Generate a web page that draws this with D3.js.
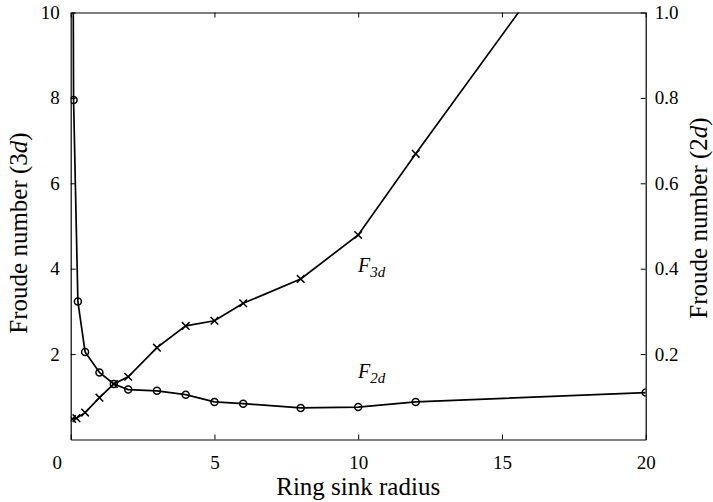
<!DOCTYPE html>
<html>
<head>
<meta charset="utf-8">
<script src="https://cdn.jsdelivr.net/npm/d3@7"></script>
<style>
  body { margin: 0; background: #fff; }
  svg text { font-family: "Liberation Serif", "Times New Roman", serif; fill: #000; }
</style>
</head>
<body>
<div id="chart"></div>
<script>
// ring sink radius, shared by both series
const radius2d = [0.06, 0.1, 0.25, 0.5, 1, 1.5, 2, 3, 4, 5, 6, 8, 10, 12, 20];
const froude2d = [1.6, 0.795, 0.323, 0.205, 0.157, 0.13, 0.117, 0.114, 0.105, 0.088, 0.084, 0.074, 0.076, 0.088, 0.11];
const radius3d = [0.05, 0.2, 0.5, 1, 1.5, 2, 3, 4, 5, 6, 8, 10, 12, 20];
const froude3d = [0.48, 0.5, 0.63, 0.98, 1.3, 1.47, 2.15, 2.66, 2.78, 3.19, 3.76, 4.79, 6.69, 14.1];
const xTicks = [0, 5, 10, 15, 20];
const leftTicks = [2, 4, 6, 8, 10];
const rightTicks = [0.2, 0.4, 0.6, 0.8, 1.0];

const W = 713, H = 502;
const pLeft = 70.7, pRight = 645.7, pTop = 12.5, pBottom = 439.5;

const svg = d3.select("#chart").append("svg")
  .attr("width", W).attr("height", H);

const x = d3.scaleLinear().domain([0, 20]).range([pLeft, pRight]);
const yL = d3.scaleLinear().domain([0, 10]).range([pBottom, pTop]);
const yR = d3.scaleLinear().domain([0, 1]).range([pBottom, pTop]);

svg.append("clipPath").attr("id", "plotclip")
  .append("rect").attr("x", pLeft).attr("y", pTop)
  .attr("width", pRight - pLeft).attr("height", pBottom - pTop);

// axes, ticks pointing inward
const tickLen = 5;
const fs = 19;

const gB = svg.append("g").attr("transform", "translate(0," + pBottom + ")")
  .call(d3.axisBottom(x).tickValues(xTicks).tickSize(-tickLen).tickPadding(16).tickSizeOuter(0));
const gT = svg.append("g").attr("transform", "translate(0," + pTop + ")")
  .call(d3.axisTop(x).tickValues(xTicks).tickSize(-tickLen).tickFormat("").tickSizeOuter(0));
const gL = svg.append("g").attr("transform", "translate(" + pLeft + ",0)")
  .call(d3.axisLeft(yL).tickValues(leftTicks).tickSize(-tickLen).tickPadding(11).tickSizeOuter(0));
const gR = svg.append("g").attr("transform", "translate(" + pRight + ",0)")
  .call(d3.axisRight(yR).tickValues(rightTicks).tickSize(-tickLen).tickPadding(9)
    .tickFormat(d3.format(".1f")).tickSizeOuter(0));

[gB, gT, gL, gR].forEach(g => {
  g.select(".domain").attr("stroke", "#000").attr("stroke-width", 1.2);
  g.selectAll(".tick line").attr("stroke", "#000").attr("stroke-width", 1);
  g.selectAll(".tick text").attr("font-size", fs)
    .attr("font-family", "Liberation Serif, Times New Roman, serif");
});
// the zero label sits left of the axis corner in the original
gB.selectAll(".tick text").filter(d => d === 0).attr("dx", -14);

// series
const plot = svg.append("g").attr("clip-path", "url(#plotclip)");

const line2d = d3.line().x((d, i) => x(radius2d[i])).y(d => yR(d));
const line3d = d3.line().x((d, i) => x(radius3d[i])).y(d => yL(d));

plot.append("path").datum(froude2d).attr("d", line2d)
  .attr("fill", "none").attr("stroke", "#000").attr("stroke-width", 1.7);
plot.append("path").datum(froude3d).attr("d", line3d)
  .attr("fill", "none").attr("stroke", "#000").attr("stroke-width", 1.7);

plot.selectAll(".circ").data(froude2d).join("circle")
  .attr("class", "circ")
  .attr("cx", (d, i) => x(radius2d[i])).attr("cy", d => yR(d))
  .attr("r", 3.5).attr("fill", "none").attr("stroke", "#000").attr("stroke-width", 1.5);

const cs = 3.8;
plot.selectAll(".cross").data(froude3d).join("path")
  .attr("class", "cross")
  .attr("d", (d, i) => {
    const cx = x(radius3d[i]), cy = yL(d);
    return "M" + (cx - cs) + "," + (cy - cs) + "L" + (cx + cs) + "," + (cy + cs) +
      "M" + (cx - cs) + "," + (cy + cs) + "L" + (cx + cs) + "," + (cy - cs);
  })
  .attr("stroke", "#000").attr("stroke-width", 1.5);

// curve labels
function curveLabel(px, py, sub) {
  const t = svg.append("text").attr("x", px).attr("y", py)
    .attr("font-size", 20).attr("font-style", "italic");
  t.append("tspan").text("F");
  t.append("tspan").attr("font-size", 15).attr("dy", 5).text(sub);
}
curveLabel(358, 272, "3d");
curveLabel(358, 378, "2d");

// axis titles
svg.append("text").attr("x", (pLeft + pRight) / 2).attr("y", 495)
  .attr("text-anchor", "middle").attr("font-size", 25).text("Ring sink radius");

function vTitle(px, py, sub) {
  const t = svg.append("text").attr("transform", "translate(" + px + "," + py + ") rotate(-90)")
    .attr("text-anchor", "middle").attr("font-size", 25);
  t.append("tspan").text("Froude number (" + sub);
  t.append("tspan").attr("font-style", "italic").text("d");
  t.append("tspan").text(")");
}
vTitle(27, 233, "3");
vTitle(707, 218, "2");
</script>
</body>
</html>
